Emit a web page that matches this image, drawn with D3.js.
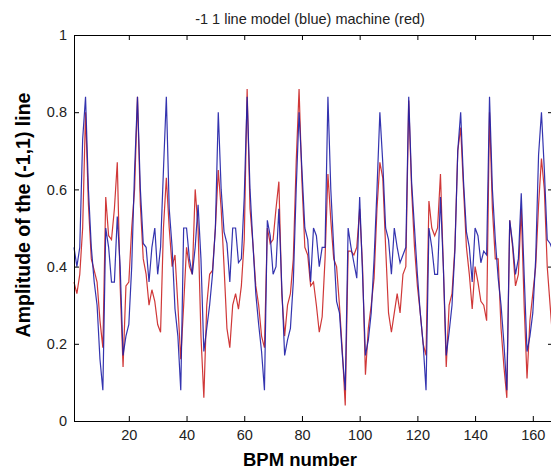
<!DOCTYPE html>
<html>
<head>
<meta charset="utf-8">
<script src="https://cdn.jsdelivr.net/npm/d3@7"></script>
<style>
  body { margin: 0; background: #fff; }
  text { font-family: "Liberation Sans", Arial, sans-serif; }
</style>
</head>
<body>
<svg id="chart"></svg>
<script>
// BPM index runs 1..167
const modelBlue = [
  0.45, 0.40, 0.45, 0.73, 0.84, 0.60, 0.45, 0.36, 0.30, 0.16,
  0.08, 0.50, 0.45, 0.36, 0.36, 0.53, 0.40, 0.17, 0.22, 0.25,
  0.40, 0.65, 0.84, 0.60, 0.46, 0.45, 0.36, 0.45, 0.50, 0.38,
  0.45, 0.65, 0.84, 0.55, 0.45, 0.29, 0.22, 0.08, 0.50, 0.50,
  0.42, 0.38, 0.45, 0.56, 0.42, 0.18, 0.24, 0.30, 0.38, 0.50,
  0.80, 0.60, 0.49, 0.46, 0.36, 0.50, 0.50, 0.41, 0.42, 0.58,
  0.84, 0.60, 0.46, 0.33, 0.25, 0.18, 0.08, 0.52, 0.48, 0.38,
  0.40, 0.55, 0.35, 0.17, 0.21, 0.24, 0.36, 0.60, 0.80, 0.65,
  0.50, 0.47, 0.36, 0.50, 0.48, 0.40, 0.45, 0.45, 0.84, 0.60,
  0.45, 0.31, 0.28, 0.17, 0.08, 0.50, 0.45, 0.41, 0.37, 0.58,
  0.38, 0.17, 0.21, 0.28, 0.42, 0.60, 0.80, 0.67, 0.50, 0.47,
  0.38, 0.50, 0.45, 0.41, 0.43, 0.45, 0.84, 0.62, 0.50, 0.38,
  0.28, 0.20, 0.08, 0.50, 0.45, 0.38, 0.38, 0.58, 0.40, 0.17,
  0.23, 0.30, 0.44, 0.70, 0.80, 0.62, 0.49, 0.45, 0.36, 0.50,
  0.48, 0.41, 0.44, 0.43, 0.84, 0.60, 0.47, 0.37, 0.30, 0.20,
  0.08, 0.52, 0.46, 0.38, 0.42, 0.59, 0.38, 0.18, 0.22, 0.28,
  0.42, 0.69, 0.80, 0.65, 0.47, 0.46, 0.44
];

const machineRed = [
  0.36, 0.33, 0.38, 0.50, 0.80, 0.56, 0.42, 0.39, 0.36, 0.26,
  0.19, 0.58, 0.48, 0.47, 0.55, 0.67, 0.35, 0.14, 0.35, 0.36,
  0.50, 0.60, 0.84, 0.56, 0.42, 0.38, 0.30, 0.34, 0.31, 0.25,
  0.23, 0.50, 0.63, 0.50, 0.40, 0.43, 0.30, 0.16, 0.30, 0.45,
  0.40, 0.38, 0.60, 0.50, 0.22, 0.06, 0.30, 0.38, 0.39, 0.50,
  0.65, 0.55, 0.40, 0.24, 0.19, 0.30, 0.33, 0.29, 0.35, 0.47,
  0.86, 0.55, 0.46, 0.35, 0.30, 0.22, 0.19, 0.50, 0.46, 0.47,
  0.55, 0.62, 0.33, 0.22, 0.30, 0.33, 0.42, 0.67, 0.86, 0.62,
  0.45, 0.43, 0.35, 0.36, 0.30, 0.23, 0.27, 0.42, 0.64, 0.52,
  0.42, 0.40, 0.30, 0.18, 0.04, 0.44, 0.44, 0.43, 0.45, 0.55,
  0.40, 0.12, 0.24, 0.30, 0.37, 0.55, 0.67, 0.63, 0.45, 0.28,
  0.23, 0.28, 0.33, 0.28, 0.38, 0.40, 0.83, 0.60, 0.45, 0.35,
  0.28, 0.20, 0.17, 0.57, 0.50, 0.48, 0.50, 0.64, 0.40, 0.14,
  0.30, 0.33, 0.45, 0.70, 0.76, 0.60, 0.45, 0.38, 0.29, 0.40,
  0.36, 0.31, 0.30, 0.26, 0.80, 0.55, 0.42, 0.42, 0.24, 0.14,
  0.06, 0.52, 0.45, 0.35, 0.38, 0.55, 0.30, 0.11, 0.26, 0.33,
  0.40, 0.56, 0.68, 0.60, 0.40, 0.30, 0.20
];

const xTicks = [20, 40, 60, 80, 100, 120, 140, 160];
const yTicks = [0, 0.2, 0.4, 0.6, 0.8, 1];

const margin = {top: 35, bottom: 50, left: 74, right: -2};
const width = 551 - margin.left - margin.right;
const height = 471 - margin.top - margin.bottom;

const svg = d3.select('#chart')
.attr('width', 551)
.attr('height', 471)
.append('g')
.attr('transform', `translate(${margin.left}, ${margin.top})`);

const x = d3.scaleLinear()
.domain([1, 167])
.range([0, width]);

const y = d3.scaleLinear()
.domain([0, 1])
.range([height, 0]);

const line = d3.line()
.x((d, i) => x(i + 1))
.y(d => y(d));

svg.append('path')
.datum(machineRed)
.attr('fill', 'none')
.attr('stroke', '#d03838')
.attr('stroke-width', 1.2)
.attr('d', line);

svg.append('path')
.datum(modelBlue)
.attr('fill', 'none')
.attr('stroke', '#1e1ea6')
.attr('stroke-width', 1.2)
.attr('stroke-opacity', 0.9)
.attr('d', line);

// MATLAB style box with inward ticks
const fmt = d => d3.format('~g')(d);

svg.append('g')
.attr('transform', `translate(0, ${height})`)
.call(d3.axisBottom(x).tickValues(xTicks).tickSizeInner(-5).tickSizeOuter(0).tickPadding(9).tickFormat(fmt));

svg.append('g')
.call(d3.axisTop(x).tickValues(xTicks).tickSizeInner(-5).tickSizeOuter(0).tickFormat(''));

svg.append('g')
.call(d3.axisLeft(y).tickValues(yTicks).tickSizeInner(-5).tickSizeOuter(0).tickPadding(7).tickFormat(fmt));

svg.append('g')
.attr('transform', `translate(${width}, 0)`)
.call(d3.axisRight(y).tickValues(yTicks).tickSizeInner(-5).tickSizeOuter(0).tickFormat(''));

svg.selectAll('.domain').attr('stroke', '#000');
svg.selectAll('.tick line').attr('stroke', '#000');
svg.selectAll('.tick text')
.style('font-size', '14.5px')
.attr('fill', '#222');

svg.append('text')
.attr('x', 310 - margin.left)
.attr('y', 24 - margin.top)
.attr('text-anchor', 'middle')
.style('font-size', '14.5px')
.attr('fill', '#222')
.text('-1 1 line model (blue) machine (red)');

svg.append('text')
.attr('x', 300 - margin.left)
.attr('y', 466 - margin.top)
.attr('text-anchor', 'middle')
.style('font-size', '18.5px')
.style('font-weight', 'bold')
.text('BPM number');

svg.append('text')
.attr('transform', 'rotate(-90)')
.attr('x', -(215 - margin.top))
.attr('y', 30 - margin.left)
.attr('text-anchor', 'middle')
.style('font-size', '19.5px')
.style('font-weight', 'bold')
.text('Amplitude of the (-1,1) line');
</script>
</body>
</html>
